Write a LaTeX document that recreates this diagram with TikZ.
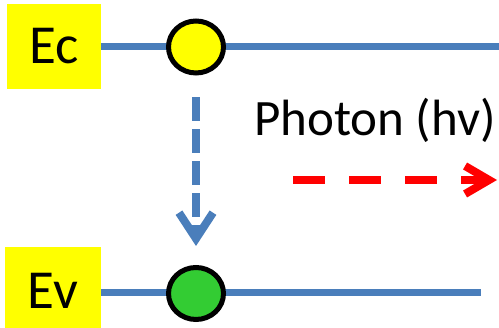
\documentclass[tikz,border=0pt]{standalone}
\usepackage{fontspec}
\setmainfont{Carlito}
\usetikzlibrary{arrows.meta,shapes.geometric}
\definecolor{bandblue}{HTML}{4A7EBB}
\definecolor{lvlyellow}{HTML}{FFFF00}
\definecolor{holegreen}{HTML}{33CC33}
\definecolor{photred}{HTML}{FF0000}

\begin{document}
\begin{tikzpicture}[
  x=1pt, y=-1pt,
  lvl/.style={fill=lvlyellow, inner sep=0pt, minimum width=94pt, font=\fontsize{55}{60}\selectfont},
  band/.style={draw=bandblue, line width=7pt},
  dot/.style={ellipse, draw=black, line width=5pt, minimum width=55pt, minimum height=52pt, inner sep=0pt},
  fall/.style={-{Straight Barb[length=26pt, width=34pt]}, line width=8pt, color=bandblue, dash pattern=on 24pt off 8pt},
  emit/.style={-{Straight Barb[length=24pt, width=28pt]}, line width=8pt, color=photred, dash pattern=on 32pt off 24pt},
]
  \useasboundingbox (0,0) rectangle (499,328);
  % energy levels
  \node[lvl, minimum height=85pt] (ec) at (54,46.5) {Ec};
  \node[lvl, minimum height=88pt, minimum width=96pt] (ev) at (53,291) {Ev};
  \coordinate (ecend) at (499,47);
  \coordinate (evend) at (481,293);
  \draw[band] (ecend -| ec.east) -- (ecend);
  \draw[band] (evend -| ev.east) -- (evend);
  % electron and hole
  \node[dot, fill=lvlyellow] (el) at (196,47) {};
  \node[dot, fill=holegreen] (hole) at (196,293.5) {};
  \draw[fall, shorten <=22pt, shorten >=19pt] (el) -- (hole);
  % photon
  \node[anchor=base west, inner sep=0pt, font=\fontsize{51}{60}\selectfont] (lbl) at (254,136) {Photon (hv)};
  \coordinate (ph0) at (293,180);
  \coordinate (ph1) at (497,180);
  \draw[emit] (ph0) -- (ph1);
\end{tikzpicture}
\end{document}
